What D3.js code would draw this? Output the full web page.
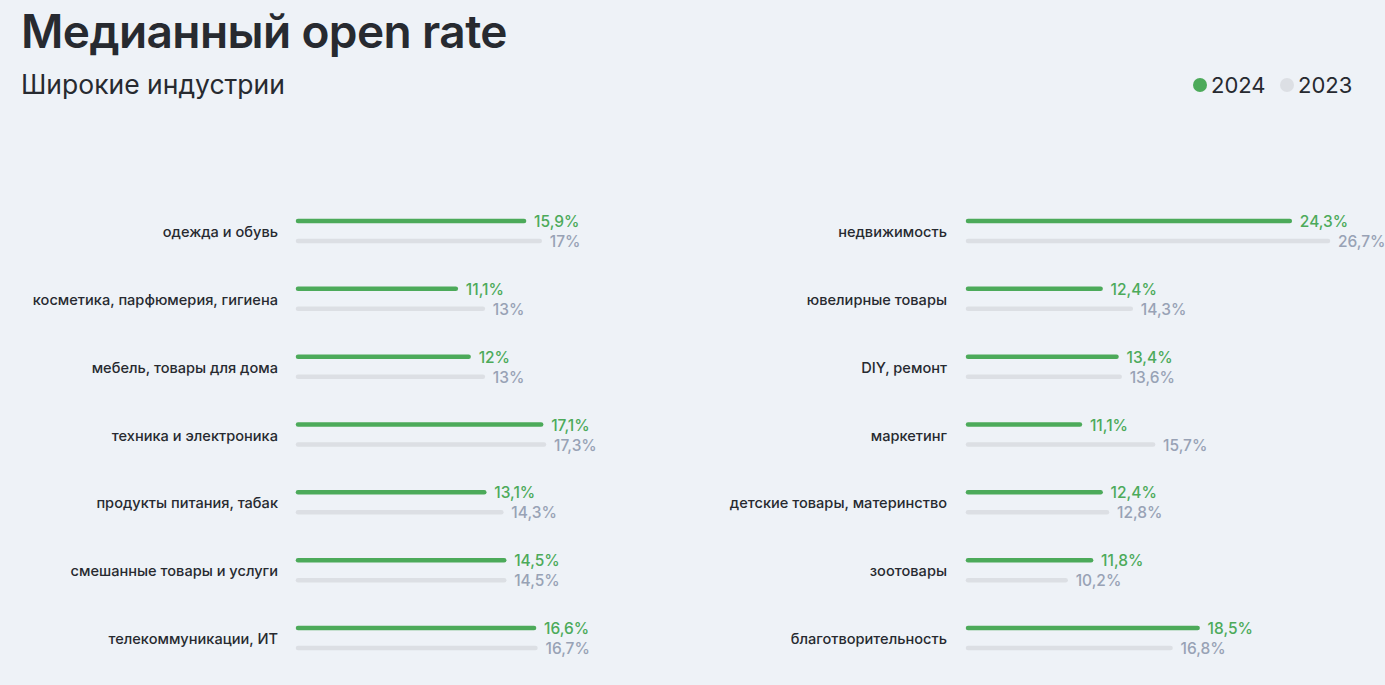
<!DOCTYPE html>
<html><head><meta charset="utf-8">
<script src="https://cdn.jsdelivr.net/npm/d3@7"></script>
<style>
html,body{margin:0;padding:0;background:#eef2f7;}
svg{display:block;font-family:Inter,"Noto Sans",sans-serif;}
</style></head>
<body><svg id="c" width="1385" height="685"></svg>
<script>
const title = "Медианный open rate";
const subtitle = "Широкие индустрии";
const seriesNames = ["2024", "2023"];
const leftCategories = ["одежда и обувь","косметика, парфюмерия, гигиена","мебель, товары для дома","техника и электроника","продукты питания, табак","смешанные товары и услуги","телекоммуникации, ИТ"];
const left2024 = [15.9, 11.1, 12, 17.1, 13.1, 14.5, 16.6];
const left2023 = [17, 13, 13, 17.3, 14.3, 14.5, 16.7];
const rightCategories = ["недвижимость","ювелирные товары","DIY, ремонт","маркетинг","детские товары, материнство","зоотовары","благотворительность"];
const right2024 = [24.3, 12.4, 13.4, 11.1, 12.4, 11.8, 18.5];
const right2023 = [26.7, 14.3, 13.6, 15.7, 12.8, 10.2, 16.8];

const C = {bg:"#eef2f7", green:"#4caa5a", grayBar:"#dcdfe4", grayText:"#98a2b5", dark:"#272a30"};
const svg = d3.select("#c");
svg.append("rect").attr("width",1385).attr("height",685).attr("fill",C.bg);

svg.append("text").attr("x",21).attr("y",48).attr("font-size",46).attr("font-weight",600)
  .attr("fill",C.dark).attr("letter-spacing","-0.6").text(title);
svg.append("text").attr("x",21).attr("y",94).attr("font-size",26.5).attr("font-weight",400)
  .attr("fill",C.dark).text(subtitle);

// legend
const leg = [{name:seriesNames[0], color:C.green, cx:1200},{name:seriesNames[1], color:C.grayBar, cx:1287}];
leg.forEach(l=>{
  svg.append("circle").attr("cx",l.cx).attr("cy",85).attr("r",7).attr("fill",l.color);
  svg.append("text").attr("x",l.cx+11).attr("y",93).attr("font-size",22).attr("fill",C.dark).text(l.name);
});

const fmt = v => String(v).replace(".", ",") + "%";

function panel(cats, v24, v23, x0, labelX, scale){
  const y = d3.scalePoint().domain(cats).range([221, 628]);
  const g = svg.append("g");
  cats.forEach((c,i)=>{
    const yy = y(c);
    g.append("text").attr("x",labelX).attr("y",yy+16).attr("text-anchor","end")
      .attr("font-size",14.6).attr("font-weight",500).attr("fill",C.dark).text(c);
    [[v24[i],C.green,C.green,0],[v23[i],C.grayBar,C.grayText,20]].forEach(([v,bc,tc,off])=>{
      const xe = x0 + scale(v);
      g.append("line").attr("x1",x0).attr("x2",xe).attr("y1",yy+off).attr("y2",yy+off)
        .attr("stroke",bc).attr("stroke-width",4.5).attr("stroke-linecap","round");
      g.append("text").attr("x",xe+10).attr("y",yy+off+6).attr("font-size",15.5).attr("font-weight",500)
        .attr("fill",tc).text(fmt(v));
    });
  });
}
const xl = d3.scaleLinear().domain([0, 17.3]).range([0, 246]);
const xr = d3.scaleLinear().domain([4.06, 26.7]).range([0, 360]);
panel(leftCategories, left2024, left2023, 298, 278, xl);
panel(rightCategories, right2024, right2023, 968, 947, xr);
</script></body></html>
